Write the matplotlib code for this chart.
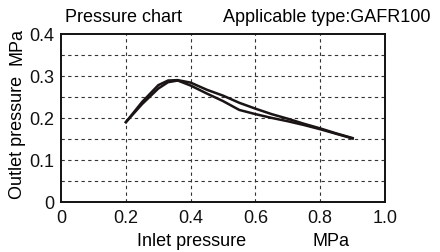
import matplotlib
matplotlib.use("Agg")
import matplotlib.pyplot as plt

plt.rcParams['font.family'] = ['Liberation Sans', 'DejaVu Sans']

# inlet pressure (MPa)
inlet = [0.2, 0.25, 0.3, 0.33, 0.36, 0.4, 0.45, 0.5, 0.55, 0.6, 0.65, 0.7, 0.75, 0.8, 0.85, 0.9]
# outlet pressure, upper branch
outlet_up = [0.19, 0.238, 0.278, 0.289, 0.290, 0.284, 0.267, 0.253, 0.236, 0.222, 0.209, 0.198, 0.186, 0.175, 0.163, 0.152]
# outlet pressure, lower branch
outlet_down = [0.19, 0.233, 0.270, 0.285, 0.289, 0.277, 0.258, 0.240, 0.219, 0.209, 0.200, 0.192, 0.183, 0.173, 0.162, 0.151]

xticks = [0, 0.2, 0.4, 0.6, 0.8, 1.0]
xticklabels = ["0", "0.2", "0.4", "0.6", "0.8", "1.0"]
yticks = [0, 0.1, 0.2, 0.3, 0.4]
yticklabels = ["0", "0.1", "0.2", "0.3", "0.4"]

fs = 13

fig = plt.figure(figsize=(4.4, 2.53), dpi=100)
ax = fig.add_axes([0.139, 0.198, 0.736, 0.664])

# dashed grid
for gx in [0.2, 0.4, 0.6, 0.8]:
    ax.axvline(gx, color="#333333", lw=0.8, ls=(0, (3, 3)), zorder=1)
for gy in [0.05, 0.1, 0.15, 0.2, 0.25, 0.3, 0.35]:
    ax.axhline(gy, color="#333333", lw=0.8, ls=(0, (3, 3)), zorder=1)

ax.plot(inlet, outlet_up, color="#1a1414", lw=1.8, zorder=3)
ax.plot(inlet, outlet_down, color="#1a1414", lw=1.8, zorder=3)

ax.set_xlim(0, 1.0)
ax.set_ylim(0, 0.4)
ax.set_xticks(xticks)
ax.set_xticklabels(xticklabels)
ax.set_yticks(yticks)
ax.set_yticklabels(yticklabels)
ax.tick_params(length=0, labelsize=fs, colors="#111111")
ax.tick_params(axis="x", pad=5)
ax.tick_params(axis="y", pad=5)
for s in ax.spines.values():
    s.set_linewidth(1.4)
    s.set_color("#111111")

fig.text(0.148, 0.93, "Pressure chart", fontsize=fs, va="center", ha="left")
fig.text(0.978, 0.93, "Applicable type:GAFR100", fontsize=fs, va="center", ha="right")
fig.text(0.039, 0.815, "MPa", fontsize=fs, rotation=90, va="center", ha="center")
fig.text(0.039, 0.455, "Outlet pressure", fontsize=fs, rotation=90, va="center", ha="center")
fig.text(0.436, 0.045, "Inlet pressure", fontsize=fs, va="center", ha="center")
fig.text(0.752, 0.045, "MPa", fontsize=fs, va="center", ha="center")

fig.savefig("out.png", dpi=100)
